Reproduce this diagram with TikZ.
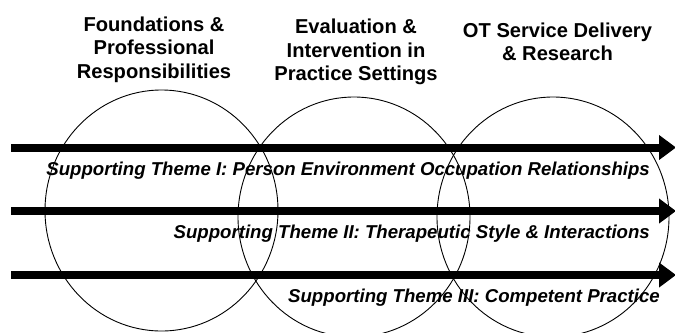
\documentclass[tikz,border=0pt]{standalone}
\usepackage{fontspec}
\setmainfont{Liberation Sans}
\usetikzlibrary{shapes.geometric,arrows.meta}
\tikzset{
  ring/.style={draw=black, line width=0.9bp, ellipse, inner sep=0pt},
  bigarrow/.style={line width=8bp, -{Triangle[length=17bp,width=24bp]}},
  titletext/.style={align=center, inner sep=0pt, anchor=base,
    font=\bfseries\fontsize{20.2}{23.5}\selectfont},
  themetext/.style={inner sep=0pt, anchor=base east,
    font=\bfseries\itshape\fontsize{18.7}{22}\selectfont}
}
\begin{document}
\begin{tikzpicture}[x=1bp,y=-1bp]
\useasboundingbox (0,0) rectangle (675,332);
% circles
\node[ring, minimum width=233bp, minimum height=241bp] (c1) at (161.5,210.5) {};
\node[ring, minimum width=232bp, minimum height=240bp] (c2) at (354,217) {};
\node[ring, minimum width=232bp, minimum height=240bp] (c3) at (553,217) {};
% titles (anchor = baseline of last line)
\node[titletext] (t1) at (154,78) {Foundations \&\\Professional\\Responsibilities};
\node[titletext] (t2) at (356,80.5) {Evaluation \&\\Intervention in\\Practice Settings};
\node[titletext] (t3) at (557.5,60.5) {OT Service Delivery\\\& Research};
% arrows
\coordinate (s1) at (11,147.5);  \coordinate (e1) at (676,147.5);
\coordinate (s2) at (11,211);    \coordinate (e2) at (676,211);
\coordinate (s3) at (11,275);    \coordinate (e3) at (676,275);
\draw[bigarrow] (s1) -- (e1);
\draw[bigarrow] (s2) -- (e2);
\draw[bigarrow] (s3) -- (e3);
% theme labels
\node[themetext] (th1) at (650,175) {Supporting Theme I: Person Environment Occupation Relationships};
\node[themetext] (th2) at (650,238) {Supporting Theme II: Therapeutic Style \& Interactions};
\node[themetext] (th3) at (660,302) {Supporting Theme III: Competent Practice};
\end{tikzpicture}
\end{document}
